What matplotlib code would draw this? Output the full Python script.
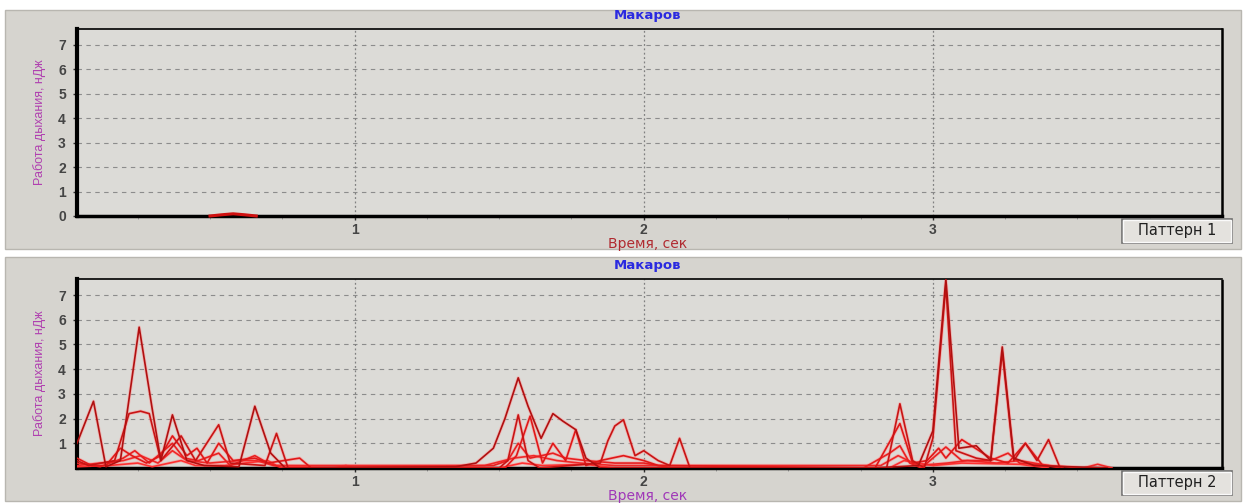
import matplotlib
matplotlib.use("Agg")
import matplotlib.pyplot as plt
from matplotlib.patches import Rectangle
import numpy as np

plt.rcParams['font.family'] = ['Liberation Sans', 'DejaVu Sans']
wide = ['DejaVu Sans']
narrow = ['Liberation Sans Narrow', 'Liberation Sans', 'DejaVu Sans']

title = "Макаров"
xlabel = "Время, сек"
ylabel = "Работа дыхания, нДж"
buttons = ["Паттерн 1", "Паттерн 2"]
x_ticks = [1, 2, 3]

# panel 1: only a tiny bump
top_t = [0.50, 0.54, 0.58, 0.62, 0.66]
top_v = [0.0, 0.05, 0.09, 0.05, 0.0]

# panel 2: several overlapping curves (t in s, value in nJ)
a_t = [0.04, 0.097, 0.14, 0.19, 0.255, 0.30, 0.33, 0.37, 0.42, 0.48, 0.60, 0.655, 0.71, 0.76,
       1.35, 1.42, 1.48, 1.52, 1.566, 1.60, 1.645, 1.686, 1.72, 1.765, 1.80, 1.85,
       2.80, 2.95, 3.00, 3.045, 3.09, 3.15, 3.20, 3.24, 3.28, 3.35, 3.60]
a_v = [1.0, 2.7, 0.05, 0.3, 5.7, 2.4, 0.3, 2.15, 0.3, 0.1, 0.05, 2.5, 0.6, 0.0,
       0.05, 0.2, 0.8, 2.0, 3.65, 2.5, 1.2, 2.2, 1.9, 1.55, 0.4, 0.0,
       0.0, 0.1, 1.5, 7.65, 0.8, 0.9, 0.3, 4.9, 0.4, 0.1, 0.0]

b_t = [0.04, 0.08, 0.17, 0.22, 0.26, 0.29, 0.33, 0.40, 0.45, 0.53, 0.57, 0.69, 0.73, 0.77,
       1.50, 1.53, 1.566, 1.60, 1.64, 1.85, 1.876, 1.90, 1.93, 1.97, 2.00, 2.05, 2.09, 2.124, 2.16,
       2.84, 2.886, 2.93, 2.97, 3.00, 3.045, 3.08, 3.15, 3.20, 3.24, 3.28, 3.32, 3.36, 3.40, 3.44]
b_v = [0.3, 0.1, 0.3, 2.2, 2.3, 2.2, 0.3, 1.3, 0.3, 1.75, 0.2, 0.1, 1.4, 0.0,
       0.0, 0.3, 2.15, 0.3, 0.0, 0.2, 1.1, 1.7, 1.95, 0.5, 0.7, 0.3, 0.1, 1.2, 0.0,
       0.0, 2.6, 0.3, 0.0, 1.2, 7.4, 0.7, 0.4, 0.3, 4.7, 0.3, 1.0, 0.3, 1.15, 0.0]

c_t = [0.04, 0.09, 0.14, 0.19, 0.23, 0.28, 0.33, 0.37, 0.42, 0.455, 0.49, 0.53, 0.58, 0.655, 0.70, 0.81, 0.85,
       1.52, 1.56, 1.607, 1.65, 1.686, 1.73, 1.765, 1.80, 1.85, 1.93, 2.00, 2.05,
       2.80, 2.886, 2.93, 2.98, 3.02, 3.045, 3.10, 3.20, 3.26, 3.32, 3.38, 3.45]
c_v = [0.4, 0.1, 0.1, 0.8, 0.5, 0.2, 0.5, 1.3, 0.5, 0.8, 0.2, 1.0, 0.3, 0.4, 0.2, 0.4, 0.0,
       0.0, 0.5, 2.1, 0.2, 1.0, 0.3, 1.55, 0.1, 0.3, 0.5, 0.3, 0.1,
       0.0, 1.8, 0.2, 0.3, 0.8, 0.4, 1.15, 0.4, 0.2, 1.0, 0.1, 0.0]

d_t = [0.04, 0.12, 0.20, 0.24, 0.29, 0.37, 0.41, 0.46, 0.53, 0.57, 0.655, 0.70, 0.75,
       1.48, 1.53, 1.566, 1.607, 1.686, 1.73, 1.80, 1.90, 2.00, 2.10,
       2.76, 2.85, 2.886, 2.92, 2.96, 3.045, 3.10, 3.20, 3.26, 3.30, 3.40]
d_v = [0.2, 0.05, 0.4, 0.7, 0.2, 1.0, 0.4, 0.3, 0.6, 0.1, 0.5, 0.2, 0.0,
       0.1, 0.3, 1.0, 0.4, 0.6, 0.4, 0.3, 0.2, 0.2, 0.0,
       0.0, 0.6, 0.9, 0.2, 0.0, 0.85, 0.3, 0.3, 0.6, 0.2, 0.1]

e_t = [0.04, 0.20, 0.26, 0.32, 0.37, 0.42, 0.50, 0.60, 0.66, 0.72,
       1.45, 1.55, 1.62, 1.70, 1.78, 1.90, 2.00,
       2.82, 2.88, 2.95, 3.05, 3.12, 3.22, 3.30, 3.40, 3.52, 3.57, 3.62]
e_v = [0.1, 0.3, 0.5, 0.2, 0.7, 0.3, 0.2, 0.3, 0.3, 0.1,
       0.1, 0.4, 0.5, 0.3, 0.2, 0.1, 0.1,
       0.1, 0.5, 0.1, 0.2, 0.3, 0.2, 0.3, 0.1, 0.0, 0.15, 0.0]

f_t = [0.04, 0.15, 0.25, 0.30, 0.40, 0.45, 0.55, 0.62, 0.70, 0.73, 0.93, 0.97, 1.00,
       1.50, 1.58, 1.65, 1.80, 1.90,
       2.85, 2.90, 3.00, 3.10, 3.30, 3.40]
f_v = [0.05, 0.1, 0.2, 0.05, 0.3, 0.1, 0.1, 0.2, 0.3, 0.1, 0.0, 0.1, 0.0,
       0.0, 0.2, 0.1, 0.15, 0.0,
       0.0, 0.3, 0.1, 0.2, 0.15, 0.0]

series = [(f_t, f_v), (e_t, e_v), (d_t, d_v), (c_t, c_v), (b_t, b_v), (a_t, a_v)]
colors = ['#ff3030', '#f02828', '#e82020', '#e01818', '#c81414', '#b01010']

W, H = 1249, 503
fig = plt.figure(figsize=(W / 100, H / 100), dpi=100)
fig.patch.set_facecolor('white')


def px(x0, y0, x1, y1):
    return [x0 / W, 1 - y1 / H, (x1 - x0) / W, (y1 - y0) / H]


# window backgrounds
for (y0, y1) in [(10, 249), (257, 501)]:
    fig.patches.append(Rectangle((5 / W, 1 - y1 / H), 1236 / W, (y1 - y0) / H,
                                 transform=fig.transFigure, facecolor='#d6d4cf',
                                 edgecolor='#b8b6b0', lw=1, zorder=-5))

axes = [fig.add_axes(px(77, 29, 1222, 216)), fig.add_axes(px(77, 279, 1222, 468))]
tops = [29, 279]
bots = [216, 468]

for i, ax in enumerate(axes):
    ax.set_zorder(1)
    ax.set_facecolor('#dcdbd7')
    ax.set_xlim(0.04, 4.0)
    ax.set_ylim(0, 7.65)
    ax.set_xticks(x_ticks)
    ax.set_xticks(np.arange(0.25, 4.0, 0.25), minor=True)
    if i == 0:
        ax.set_yticks(range(0, 8))
    else:
        ax.set_yticks(range(1, 8))
    ax.tick_params(axis='both', labelsize=10, colors='#303030', length=3, width=1)
    ax.tick_params(axis='x', which='minor', length=2, color='#909090')
    ax.tick_params(axis='x', pad=2)
    ax.tick_params(axis='y', pad=5)
    for lb in ax.get_xticklabels() + ax.get_yticklabels():
        lb.set_fontweight('bold')
        lb.set_color('#454545')
    for yv in range(1, 8):
        ax.axhline(yv, color='#8c8c8c', lw=0.8, ls=(0, (4, 4)), zorder=1)
    for xv in x_ticks:
        ax.axvline(xv, color='#808080', lw=0.9, ls=(0, (1.5, 2)), zorder=1)
    ax.spines['left'].set_linewidth(3)
    ax.spines['bottom'].set_linewidth(2.5)
    ax.spines['top'].set_linewidth(1.2)
    ax.spines['right'].set_linewidth(1.8)
    ax.spines['right'].set_linestyle((0, (1, 1)))
    ax.set_ylabel(ylabel, color='#b040b0', fontsize=9, labelpad=9, family=narrow)

    fig.text(648 / W, 1 - (tops[i] - 13) / H, title, color='#2a2ae0', fontsize=9.5,
             fontweight='bold', ha='center', va='center', family=wide)
    fig.text(648 / W, 1 - (bots[i] + 28) / H, xlabel,
             color='#b02a30' if i == 0 else '#a038b8', fontsize=10, ha='center', va='center',
             family=wide)

    # "Паттерн" button
    by0 = bots[i] + 3
    fig.patches.append(Rectangle((1122 / W, 1 - (by0 + 24) / H), 110 / W, 24 / H,
                                 transform=fig.transFigure, facecolor='#e4e2de',
                                 edgecolor='#707070', lw=1.2, zorder=5))
    fig.patches.append(Rectangle((1123 / W, 1 - (by0 + 23) / H), 108 / W, 22 / H,
                                 transform=fig.transFigure, facecolor='none',
                                 edgecolor='#fafafa', lw=1.0, zorder=5))
    fig.text(1177 / W, 1 - (by0 + 12) / H, buttons[i], fontsize=10.5, color='#202020',
             ha='center', va='center', zorder=6, family=wide)

axes[0].plot(top_t, top_v, color='#d01010', lw=2.2, zorder=3, clip_on=False)

for (t, v), c in zip(series, colors):
    axes[1].plot(t, v, color='#ff9090', lw=2.4, alpha=0.5, zorder=2)
for (t, v), c in zip(series, colors):
    axes[1].plot(t, v, color=c, lw=1.2, zorder=3)

fig.savefig('out.png', dpi=100, facecolor=fig.get_facecolor())
